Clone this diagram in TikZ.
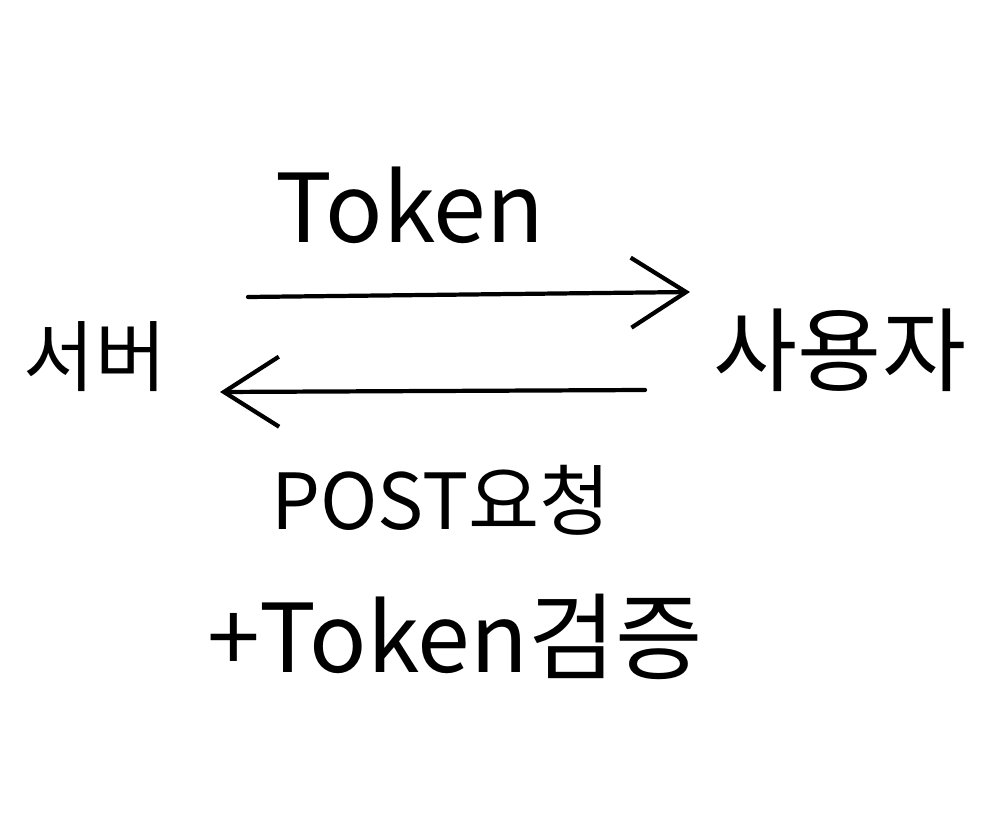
\documentclass[tikz,border=0pt]{standalone}
\usepackage{fontspec}
\setmainfont{Noto Sans CJK KR}
\usetikzlibrary{arrows.meta, positioning}

\begin{document}
\begin{tikzpicture}[
    x=0.01cm, y=-0.01cm,
    party/.style={inner sep=0pt, font=\fontsize{26}{30}\selectfont},
    label/.style={inner sep=0pt, font=\fontsize{27}{32}\selectfont},
    flow/.style={line width=1.2pt, line cap=round,
        -{Straight Barb[length=5.5mm, width=7mm, line width=1.2pt]}}
]
\useasboundingbox (0,0) rectangle (992,828);

% Ends of the exchange
\node[party, font=\fontsize{22}{26}\selectfont] (server) at (95,357) {서버};
\node[party] (user) at (840,350) {사용자};

% Arrow ends
\coordinate (tokenFrom) at (248,297);
\coordinate (tokenTo) at (690,292);
\coordinate (postFrom) at (645,390);
\coordinate (postTo) at (220,392);

% Messages
\draw[flow] (tokenFrom) -- (tokenTo);
\draw[flow] (postFrom) -- (postTo);

% Labels
\node[label] (token) at (410,205) {Token};
\node[label, font=\fontsize{22}{26}\selectfont] (post) at (441,500) {POST요청};
\node[label] (check) at (455,637) {+Token검증};

\end{tikzpicture}
\end{document}
